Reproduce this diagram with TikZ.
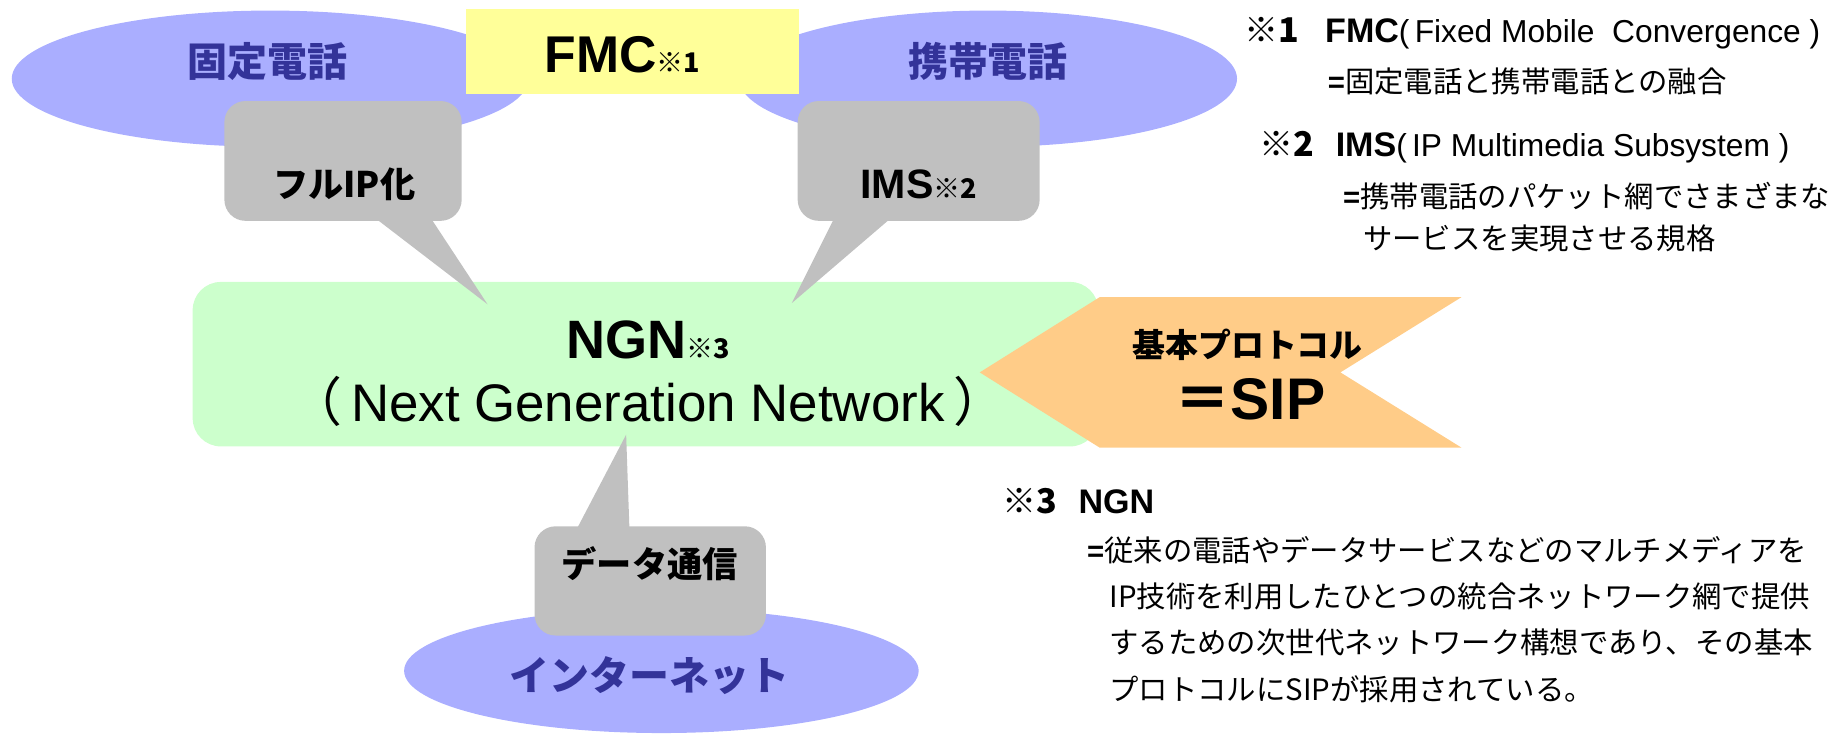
\documentclass[tikz,border=0pt]{standalone}
\usepackage{fontspec}
\setmainfont{Liberation Sans}
\newfontfamily\jp{Noto Sans CJK JP}
\usetikzlibrary{shapes.geometric}
\definecolor{ellblue}{RGB}{170,174,255}
\definecolor{ttlblue}{RGB}{51,51,153}
\definecolor{fmcyellow}{RGB}{255,255,153}
\definecolor{calgray}{RGB}{192,192,192}
\definecolor{ngngreen}{RGB}{204,255,204}
\definecolor{penorange}{RGB}{255,204,136}
\begin{document}
\begin{tikzpicture}[x=0.5pt,y=-0.5pt,
  blob/.style={ellipse, fill=ellblue, inner sep=0pt},
  bubble/.style={rectangle, rounded corners=9pt, fill=calgray, inner sep=0pt},
  ttl/.style={inner sep=0pt, anchor=base, text=ttlblue, font=\jp\bfseries\fontsize{17}{20}\selectfont},
  cal/.style={inner sep=0pt, anchor=base, font=\jp\bfseries\fontsize{15}{18}\selectfont},
  note/.style={inner sep=0pt, anchor=base west, font=\jp\fontsize{12.5}{15}\selectfont},
  head/.style={inner sep=0pt, anchor=base west, font=\fontsize{13.5}{16}\selectfont},
]
\useasboundingbox (0,0) rectangle (1568,630);
% ellipses
\node[blob, minimum width=220pt, minimum height=58pt] (fixedE) at (230,67) {};
\node[blob, minimum width=212pt, minimum height=58pt] (mobileE) at (841,67) {};
\node[blob, minimum width=219pt, minimum height=53pt] (netE) at (563,571) {};
% FMC box
\node[fill=fmcyellow, minimum width=141.5pt, minimum height=36pt, inner sep=0pt] (fmcbox) at (538.5,44) {};
\node[ttl] (fixedT) at (228,65) {固定電話};
\node[ttl] (mobileT) at (841,65) {携帯電話};
\node[inner sep=0pt, anchor=base] (fmcT) at (530,62) {\fontsize{22}{26}\selectfont\bfseries FMC{\jp\fontsize{11.5}{13}\selectfont ※1}};
% NGN box
\node[fill=ngngreen, rounded corners=12pt, minimum width=385.5pt, minimum height=70pt, inner sep=0pt] (ngn) at (549.5,310) {};
% callouts
\coordinate (tipA) at (415,259);
\coordinate (tipB) at (674,258);
\coordinate (tipC) at (533,370);
\fill[calgray] (312,180) -- (tipA) -- (363,180) -- cycle;
\fill[calgray] (713,180) -- (tipB) -- (765,180) -- cycle;
\fill[calgray] (488,456) -- (tipC) -- (536,456) -- cycle;
\node[bubble, minimum width=101pt, minimum height=51pt] (calA) at (292,137) {};
\node[bubble, minimum width=103pt, minimum height=51pt] (calB) at (782,137) {};
\node[bubble, minimum width=98.5pt, minimum height=46.5pt] (calC) at (553.5,494.5) {};
\node[cal] (calAT) at (293,168) {フルIP化};
\node[inner sep=0pt, anchor=base] (calBT) at (782,169) {\fontsize{17.5}{20}\selectfont\bfseries IMS{\jp\fontsize{11.5}{13}\selectfont ※2}};
\node[cal] (calCT) at (553,492) {データ通信};
\node[ttl] (netT) at (553,588) {インターネット};
% pennant
\fill[penorange] (834,317) -- (936,253) -- (1244,253) -- (1141,317) -- (1244,381) -- (936,381) -- cycle;
\node[cal, font=\jp\bfseries\fontsize{14}{17}\selectfont] (sipA) at (1062,304) {基本プロトコル};
\node[inner sep=0pt, anchor=base] (sipB) at (1064,357) {\bfseries{\jp\fontsize{24}{28}\selectfont ＝}\fontsize{25}{30}\selectfont SIP};
% NGN text
\node[inner sep=0pt, anchor=base] (ngnA) at (551.5,305) {\fontsize{23}{27}\selectfont\bfseries NGN{\jp\fontsize{11.5}{13}\selectfont ※3}};
\node[inner sep=0pt, anchor=base] (ngnB) at (551.5,359) {\fontsize{22.5}{27}\selectfont{\jp （}\,Next Generation Network\,{\jp ）}};
% notes
\node[head] (h1) at (1059,36) {{\jp\bfseries\fontsize{14.5}{16}\selectfont ※1}\hspace{11pt}{\bfseries\fontsize{14.5}{16}\selectfont FMC}(\,Fixed Mobile\ \ Convergence\ )};
\node[note] (n1) at (1130,79) {{\rmfamily\bfseries =}固定電話と携帯電話との融合};
\node[head] (h2) at (1072,133) {{\jp\bfseries\fontsize{14.5}{16}\selectfont ※2}\hspace{9pt}{\bfseries\fontsize{14.5}{16}\selectfont IMS}(\,IP Multimedia Subsystem\ )};
\node[note] (n2a) at (1143,177) {{\rmfamily\bfseries =}携帯電話のパケット網でさまざまな};
\node[note] (n2b) at (1160,212) {サービスを実現させる規格};
\node[head] (h3) at (853,437) {{\jp\bfseries\fontsize{14.5}{16}\selectfont ※3}\hspace{9pt}{\bfseries\fontsize{14.5}{16}\selectfont NGN}};
\node[note] (n3a) at (925,478) {{\rmfamily\bfseries =}従来の電話やデータサービスなどのマルチメディアを};
\node[note] (n3b) at (944,517) {IP技術を利用したひとつの統合ネットワーク網で提供};
\node[note] (n3c) at (944,556) {するための次世代ネットワーク構想であり、その基本};
\node[note] (n3d) at (944,596) {プロトコルにSIPが採用されている。};
\end{tikzpicture}
\end{document}
